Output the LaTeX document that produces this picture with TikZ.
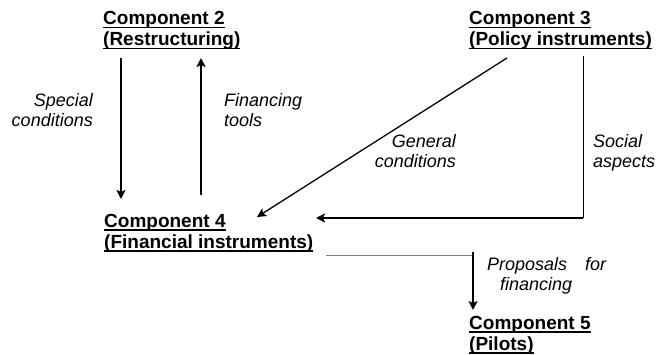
\documentclass[tikz,border=0pt]{standalone}
\usepackage{fontspec}
\setmainfont{Liberation Sans}
\usepackage{tikz}
\usetikzlibrary{arrows.meta}
\usetikzlibrary{positioning}
\newcommand{\ulbox}[1]{\setbox0=\hbox{#1}\rlap{\rule[-3.5pt]{\wd0}{1.7pt}}\box0}
\tikzstyle{comp} = [inner sep=0pt, anchor=base west, align=left, font=\fontsize{19}{21}\selectfont\bfseries]
\tikzstyle{note} = [inner sep=0pt, font=\fontsize{18}{20}\selectfont\itshape]
\tikzstyle{flow} = [line width=2pt, -{Stealth[length=9pt,width=9pt,inset=2pt]}]

\begin{document}
\begin{tikzpicture}[x=1pt, y=1pt, node distance=2cm]
\useasboundingbox (0,0) rectangle (658,354);

\node (comp2) [comp] at (103,308) {\ulbox{Component 2}\\\ulbox{(Restructuring)}};
\node (comp3) [comp] at (469,308) {\ulbox{Component 3}\\\ulbox{(Policy instruments)}};
\node (comp4) [comp] at (104,106) {\ulbox{Component 4}\\\ulbox{(Financial instruments)}};
\node (comp5) [comp] at (469,4) {\ulbox{Component 5}\\\ulbox{(Pilots)}};

\node (special) [note, anchor=base east, align=right] at (93,228) {Special\\conditions};
\node (tools) [note, anchor=base west, align=left] at (224,228) {Financing\\tools};
\node (general) [note, anchor=base east, align=right] at (456,187) {General\\conditions};
\node (social) [note, anchor=base west, align=left] at (593,187) {Social\\aspects};
\node (proposals) [note, anchor=base west, align=left] at (487,64) {Proposals\hspace{18pt}for\\\hspace*{13pt}financing};

\draw[flow] ([shift={(18,-12)}]comp2.base west) -- ([shift={(17,49)}]comp4.base west);
\draw[flow] ([shift={(97,53)}]comp4.base west) -- ([shift={(98,-12)}]comp2.base west);
\draw[flow, line width=1.3pt] ([shift={(38,-12)}]comp3.base west) -- ([shift={(153,31)}]comp4.base west);

\coordinate (socialend) at ([shift={(212,30)}]comp4.base west);
\coordinate (socialtop) at ([shift={(114,-10)}]comp3.base west);
\coordinate (socialbend) at (socialtop |- socialend);
\draw[line width=0.8pt] (socialtop) -- (socialbend);
\draw[flow] (socialbend) -- (socialend);

\coordinate (propstart) at ([shift={(222,-7)}]comp4.base west);
\coordinate (propbend) at ([shift={(4,95)}]comp5.base west);
\draw[gray, line width=1pt] (propstart) -- (propstart -| propbend);
\draw[flow, line width=1.4pt] ([yshift=3pt]propbend) -- ([shift={(4,40)}]comp5.base west);
\end{tikzpicture}
\end{document}
